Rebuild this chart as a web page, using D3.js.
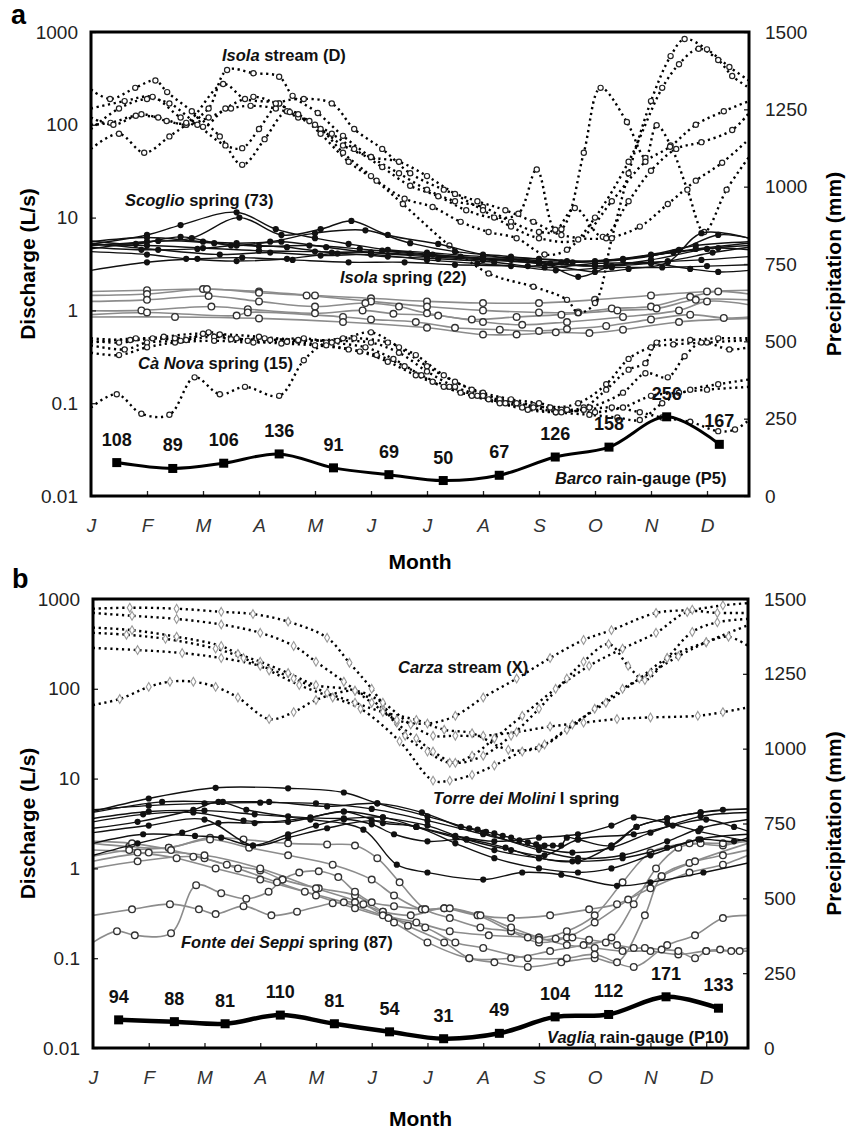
<!DOCTYPE html>
<html><head><meta charset="utf-8">
<script src="https://cdn.jsdelivr.net/npm/d3@7"></script>
<style>
body{margin:0;background:#fff;}
svg text{font-family:"Liberation Sans",Arial,Helvetica,sans-serif;}
</style></head><body>
<svg id="fig" width="846" height="1132"></svg>
<script>
// ---- axis vocabulary ----
const months = ["J","F","M","A","M","J","J","A","S","O","N","D"];
const monthTicks = [0,1,2,3,4,5,6,7,8,9,10,11];
const decadeTicks = [0.01,0.1,1,10,100,1000];
const decadeLabels = ["0.01","0.1","1","10","100","1000"];
const precipTicks = [0,250,500,750,1000,1250,1500];

// ---- monthly precipitation (mm), plotted at mid-month ----
const precipMonth = [0.46,1.46,2.37,3.36,4.33,5.32,6.29,7.29,8.29,9.25,10.28,11.22];
const precipBarco = [108,89,106,136,91,69,50,67,126,158,256,167];
const precipVaglia = [94,88,81,110,81,54,31,49,104,112,171,133];

// ---- panel a: discharge records [month, L/s] ----
const isolaStream = [
 [[0,100],[0.35,105],[0.8,125],[1.2,120],[1.7,100],[2.1,120],[2.5,150],[2.85,160],[3.3,150],[3.7,120],[4.1,90],[4.5,50],[5.0,28],[5.57,14],[6.4,5],[7.1,2.5],[7.9,1.8],[8.5,1.3],[8.7,0.94],[9.0,1.2],[9.3,6],[9.6,30],[10.0,180],[10.35,550],[10.6,840],[11.0,650],[11.4,420],[11.75,300]],
 [[0,240],[0.34,190],[0.79,250],[1.15,300],[1.36,225],[1.8,140],[2.3,75],[2.7,37],[3.1,70],[3.5,140],[3.9,110],[4.3,80],[4.7,55],[5.2,35],[5.7,22],[6.2,17],[6.7,12],[7.2,10],[7.63,11],[7.96,33],[8.29,7.4],[8.64,12.7],[9.14,6.2],[9.6,15],[10.0,32],[10.45,55],[10.9,65],[11.45,88],[11.75,134]],
 [[0,55],[0.5,80],[0.95,50],[1.4,75],[1.7,100],[2.1,150],[2.43,390],[2.9,360],[3.36,330],[3.6,205],[4.05,134],[4.5,76],[5.0,45],[5.5,30],[6.0,20],[6.5,15],[7.0,13],[7.5,9],[8.0,7],[8.4,7.5],[8.8,50],[9.1,250],[9.57,107],[9.9,44],[10.1,99],[10.35,60],[10.65,20],[10.95,7],[11.35,20],[11.75,45]],
 [[0,120],[0.4,100],[0.9,130],[1.35,110],[1.7,105],[2.36,275],[2.75,190],[3.36,170],[3.55,137],[4.0,100],[4.5,60],[5.0,45],[5.5,40],[6.0,28],[6.5,18],[7.0,12],[7.5,8],[8.0,6],[8.7,5.8],[9.3,15],[9.9,40],[10.34,58],[10.8,100],[11.3,140],[11.75,180]],
 [[0,90],[0.5,150],[1.0,190],[1.4,170],[1.9,100],[2.4,60],[2.7,56],[3.0,90],[3.36,170],[3.8,190],[4.3,170],[4.7,90],[5.2,55],[5.7,30],[6.3,20],[6.9,15],[7.4,12],[7.9,9],[8.4,6.5],[9.2,6],[9.8,8],[10.3,14],[10.8,25],[11.27,39],[11.75,70]],
 [[0,150],[0.6,180],[1.1,200],[1.6,120],[2.0,95],[2.4,150],[2.9,200],[3.3,170],[3.7,130],[4.1,80],[4.6,40],[5.1,25],[5.6,16],[6.1,13],[6.6,9],[7.1,7],[7.6,6],[8.1,4],[8.5,4.5],[9.0,10],[9.6,40],[10.2,250],[10.5,450],[10.85,660],[11.2,500],[11.45,336],[11.75,250]]
];
const scoglioSpring = [
 [[0,5.2],[1.0,6.5],[1.6,8.3],[2.6,11.4],[3.3,7.5],[4.0,6],[4.6,5.2],[5.3,4.5],[6.0,4.2],[7.0,3.8],[8.0,3.6],[9.0,3.4],[10.0,4],[10.8,5],[11.75,5.5]],
 [[0,5.0],[1.0,5.5],[1.8,6],[2.65,10],[3.4,6.5],[4.1,7.5],[4.65,9.2],[5.3,6.5],[6.2,5.2],[7.0,4],[8.0,3.3],[9.0,3.0],[10.0,3.5],[11.0,4.6],[11.75,5]],
 [[0,5.5],[1.0,6.1],[2.0,5.5],[2.6,5.3],[3.2,5.5],[4.0,6.8],[4.9,7.3],[5.7,5.3],[6.5,4.3],[7.5,3.8],[8.5,3.4],[9.5,3.5],[10.5,4.5],[11.2,6.5],[11.75,6]],
 [[0,4.8],[0.9,4.5],[1.9,4.6],[2.6,5.0],[3.5,4.8],[4.3,4.2],[5.2,4.4],[6.1,4.0],[7.0,3.6],[8.2,3.2],[9.2,3.0],[10.3,3.4],[11.1,4.2],[11.75,4.8]],
 [[0,4.3],[1.0,4.0],[1.7,3.6],[2.6,3.4],[3.5,3.6],[4.4,4.1],[5.3,3.8],[6.2,3.6],[7.2,3.3],[8.1,2.9],[9.0,3.2],[10.0,3.3],[10.9,3.5],[11.75,3.8]],
 [[0,2.7],[1.0,3.3],[1.9,3.6],[2.7,3.7],[3.6,3.5],[4.6,3.3],[5.6,3.3],[6.5,3.1],[7.5,3.0],[8.3,2.7],[9.3,2.9],[10.2,2.9],[11.0,3.0],[11.75,3.1]],
 [[0,5.6],[0.8,5.2],[1.6,6.2],[2.5,5.0],[3.4,5.5],[4.2,4.8],[5.0,4.2],[6.0,3.8],[7.0,3.5],[8.0,3.2],[9.0,2.6],[9.6,2.8],[10.3,3.3],[10.9,6.8],[11.75,6.0]],
 [[0,5.1],[1.0,5.0],[2.0,4.7],[3.0,4.4],[4.0,4.3],[5.0,4.2],[6.0,3.9],[7.0,3.6],[8.0,3.4],[8.7,2.3],[9.3,3.0],[10.0,3.2],[10.7,2.8],[11.2,2.6],[11.75,2.7]],
 [[0,4.6],[1.2,5.6],[2.2,5.3],[3.0,4.9],[3.9,5.0],[4.8,4.6],[5.7,4.1],[6.6,3.8],[7.5,3.5],[8.4,3.3],[9.2,3.4],[10.0,3.9],[10.8,4.6],[11.75,5.3]],
 [[0,5.3],[1.2,4.5],[2.3,4.0],[3.2,4.2],[4.1,3.9],[5.0,4.0],[6.0,3.5],[6.9,3.2],[7.8,3.0],[8.6,3.3],[9.5,3.6],[10.4,4.2],[11.2,4.7],[11.75,4.5]]
];
const isolaSpring = [
 [[0,1.6],[1.0,1.65],[2.0,1.7],[3.0,1.6],[4.0,1.45],[5.0,1.35],[6.0,1.25],[7.0,1.2],[8.0,1.2],[9.0,1.3],[10.0,1.45],[11.0,1.6],[11.75,1.65]],
 [[0,1.45],[1.0,1.5],[2.07,1.7],[3.0,1.55],[3.85,1.45],[5.0,1.25],[6.0,1.1],[7.0,1.0],[8.0,0.95],[8.7,0.95],[9.3,1.05],[10.0,1.1],[10.7,1.4],[11.2,1.6],[11.75,1.5]],
 [[0,1.25],[1.0,1.3],[2.1,1.43],[3.0,1.25],[4.0,1.1],[4.9,1.2],[5.5,1.1],[6.0,0.93],[6.8,0.8],[7.6,0.85],[8.4,0.9],[9.4,1.0],[10.1,1.05],[10.8,1.3],[11.75,1.3]],
 [[0,0.99],[0.9,1.0],[2.15,1.1],[2.8,1.03],[4.0,0.93],[4.85,1.0],[5.4,0.92],[6.2,0.88],[7.0,0.75],[7.7,0.7],[8.5,0.75],[9.5,0.85],[10.5,1.0],[11.0,1.25],[11.75,1.15]],
 [[0,0.9],[1.0,0.95],[2.6,0.88],[2.8,0.95],[4.5,0.85],[5.0,0.8],[5.8,0.75],[6.5,0.65],[7.3,0.62],[8.0,0.6],[8.5,0.63],[9.2,0.68],[10.0,0.8],[10.7,0.9],[11.3,0.83],[11.75,0.85]],
 [[0,0.85],[1.5,0.85],[3.0,0.82],[4.5,0.75],[6.0,0.65],[7.0,0.55],[7.6,0.55],[8.3,0.58],[8.9,0.57],[9.5,0.62],[10.5,0.75],[11.75,0.82]]
];
const caNovaSpring = [
 [[0,0.09],[0.46,0.125],[0.9,0.077],[1.4,0.075],[1.85,0.19],[2.3,0.125],[2.75,0.15],[3.36,0.12],[3.8,0.29],[4.2,0.45],[4.7,0.5],[5.3,0.45],[5.8,0.33],[6.3,0.2],[6.8,0.14],[7.3,0.11],[7.9,0.095],[8.4,0.085],[8.8,0.09],[9.2,0.14],[9.6,0.23],[9.9,0.27],[10.1,0.45],[10.7,0.48],[11.2,0.5],[11.75,0.5]],
 [[0,0.47],[0.5,0.45],[1.1,0.5],[1.7,0.48],[2.1,0.58],[2.6,0.5],[3.2,0.48],[3.8,0.5],[4.3,0.45],[4.9,0.4],[5.4,0.3],[5.9,0.2],[6.4,0.15],[6.9,0.12],[7.4,0.1],[7.9,0.09],[8.4,0.08],[8.9,0.09],[9.5,0.13],[9.9,0.21],[10.3,0.19],[10.6,0.32],[10.9,0.45],[11.4,0.38],[11.75,0.4]],
 [[0,0.42],[0.6,0.38],[1.0,0.45],[1.6,0.47],[2.2,0.52],[2.8,0.47],[3.4,0.44],[4.0,0.42],[4.6,0.38],[5.1,0.33],[5.6,0.25],[6.1,0.17],[6.6,0.13],[7.1,0.11],[7.7,0.09],[8.3,0.08],[8.9,0.075],[9.4,0.07],[9.8,0.066],[10.2,0.1],[10.7,0.14],[11.2,0.16],[11.75,0.18]],
 [[0,0.5],[0.7,0.48],[1.3,0.52],[2.0,0.56],[2.5,0.49],[3.1,0.5],[3.7,0.47],[4.5,0.5],[5.0,0.58],[5.5,0.4],[6.0,0.25],[6.5,0.17],[7.0,0.13],[7.5,0.11],[8.0,0.1],[8.5,0.085],[9.0,0.08],[9.5,0.09],[10.0,0.12],[10.5,0.13],[11.0,0.14],[11.75,0.15]],
 [[0,0.35],[0.5,0.33],[1.0,0.4],[1.5,0.45],[2.2,0.47],[2.9,0.45],[3.5,0.46],[4.2,0.42],[4.8,0.36],[5.3,0.28],[5.8,0.2],[6.3,0.15],[6.8,0.12],[7.3,0.1],[7.8,0.085],[8.3,0.08],[8.8,0.085],[9.3,0.09],[9.8,0.08],[10.2,0.07],[10.7,0.063],[11.2,0.05],[11.5,0.052],[11.75,0.066]],
 [[0,0.45],[0.8,0.5],[1.5,0.5],[2.3,0.55],[3.0,0.52],[3.7,0.48],[4.4,0.47],[5.0,0.45],[5.5,0.35],[6.0,0.22],[6.5,0.15],[7.0,0.12],[7.6,0.1],[8.2,0.09],[8.7,0.1],[9.2,0.16],[9.6,0.3],[10.0,0.4],[10.4,0.43],[11.0,0.45],[11.75,0.48]]
];

// ---- panel b: discharge records [month, L/s] ----
const carzaStream = [
 [[0,780],[0.66,800],[1.5,780],[2.3,720],[2.87,680],[3.5,560],[4.2,370],[4.6,195],[5.0,100],[5.45,42],[5.8,28],[6.1,20],[6.5,15],[7.0,18],[7.5,30],[8.0,60],[8.5,130],[8.8,200],[9.25,315],[9.6,180],[9.9,125],[10.3,220],[10.75,430],[11.2,550],[11.75,600]],
 [[0,700],[0.7,650],[1.5,600],[2.3,520],[3.0,420],[3.6,300],[4.0,200],[4.5,120],[5.0,70],[5.45,45],[6.0,41],[6.5,50],[7.0,80],[7.6,130],[8.2,220],[8.8,350],[9.3,450],[10.1,700],[10.75,760],[11.3,850],[11.75,900]],
 [[0,480],[0.7,450],[1.5,380],[2.3,300],[2.6,245],[3.0,200],[3.5,150],[4.0,110],[4.7,95],[5.2,60],[5.6,30],[6.0,20],[6.4,15],[6.8,18],[7.2,28],[7.7,50],[8.3,100],[8.9,180],[9.5,280],[10.1,420],[10.66,715],[11.2,700],[11.75,700]],
 [[0,420],[0.6,400],[1.3,360],[2.2,280],[2.7,220],[3.16,160],[3.7,110],[4.3,80],[4.8,60],[5.5,26],[6.1,9.5],[6.4,9.5],[6.8,11],[7.2,14],[7.7,20],[8.1,24],[8.6,40],[9.2,70],[9.8,130],[10.3,220],[11.0,330],[11.4,380],[11.75,300]],
 [[0,285],[0.8,270],[1.6,250],[2.3,220],[3.0,180],[3.6,130],[4.2,90],[4.7,70],[5.2,55],[5.8,45],[6.3,35],[6.8,32],[7.45,21],[8.0,22],[8.5,35],[9.0,60],[9.5,100],[10.0,150],[10.5,230],[11.0,330],[11.75,510]],
 [[0,66],[0.48,77],[1.0,105],[1.38,120],[1.8,120],[2.2,105],[2.6,80],[3.16,46],[3.6,55],[4.0,75],[4.7,95],[5.2,70],[5.7,40],[6.1,30],[6.5,30],[7.0,30],[7.6,33],[8.2,38],[8.8,42],[9.4,46],[10.0,48],[10.85,50],[11.3,55],[11.75,62]]
];
const torreSpring = [
 [[0,4.3],[1.0,6.0],[2.2,7.9],[3.5,7.8],[4.5,7.0],[5.1,5.3],[6.0,3.8],[7.0,2.5],[8.0,1.6],[8.7,1.3],[9.5,1.4],[10.3,2.0],[10.9,2.8],[11.75,3.5]],
 [[0,4.2],[1.24,5.5],[2.33,5.5],[3.16,5.5],[4.2,4.9],[5.1,5.3],[5.9,4.2],[6.6,2.9],[6.75,2.8],[6.9,2.7],[7.05,2.55],[7.2,2.45],[7.35,2.3],[7.5,2.2],[7.65,2.05],[7.8,1.95],[7.95,1.85],[8.1,1.8],[8.25,1.8],[8.4,1.8],[8.5,2.2],[8.7,2.1],[9.3,1.8],[9.75,2.9],[10.3,3.6],[10.9,4.2],[11.3,4.5],[11.75,4.6]],
 [[0,3.3],[0.9,4.0],[1.8,4.2],[2.7,3.4],[3.5,3.3],[4.5,4.3],[5.2,3.7],[6.0,3.0],[6.7,2.1],[7.5,1.6],[8.1,1.4],[8.7,2.1],[9.7,2.4],[10.4,3.0],[11.0,3.5],[11.5,2.9],[11.75,2.6]],
 [[0,2.8],[0.8,3.3],[1.8,4.5],[2.25,5.5],[2.75,4.5],[3.5,3.8],[4.5,3.6],[5.2,3.7],[5.8,2.9],[6.5,2.2],[7.2,1.6],[8.0,1.3],[8.7,1.2],[9.3,1.8],[9.75,2.9],[10.3,3.6],[10.9,4.2],[11.75,4.6]],
 [[0,1.9],[0.9,2.4],[1.83,2.3],[2.3,2.2],[2.87,1.8],[3.5,2.4],[4.0,3.0],[4.5,3.5],[5.0,3.1],[5.4,2.4],[6.0,2.0],[6.7,2.1],[7.4,1.7],[8.0,1.3],[8.6,1.2],[9.5,1.3],[10.3,1.7],[10.9,2.1],[11.5,2.0],[11.75,2.2]],
 [[0,1.4],[0.8,1.9],[1.6,2.5],[2.25,3.2],[2.9,3.2],[3.9,3.7],[4.5,4.3],[5.2,3.2],[5.8,2.9],[6.5,1.9],[7.2,1.3],[8.0,1.0],[8.7,0.9],[9.3,1.0],[10.0,1.4],[10.86,2.1],[11.75,2.4]],
 [[0,3.6],[1.0,4.3],[2.0,4.4],[2.9,4.0],[3.9,3.5],[4.85,2.7],[5.45,1.1],[6.0,0.9],[7.0,0.75],[7.7,0.9],[8.4,0.85],[9.4,0.64],[10.0,0.7],[10.95,0.9],[11.75,1.15]],
 [[0,4.5],[1.0,5.0],[2.0,5.3],[3.0,5.4],[4.0,5.3],[5.0,4.6],[6.0,3.4],[7.0,2.4],[8.0,1.7],[8.6,1.5],[9.3,1.7],[10.0,2.5],[10.9,3.8],[11.75,4.2]],
 [[0,2.5],[1.0,3.0],[2.0,3.5],[2.87,1.8],[3.5,2.2],[4.2,2.8],[5.0,3.4],[5.8,2.9],[6.5,2.3],[7.2,2.0],[8.0,2.2],[8.7,2.4],[9.3,3.0],[9.7,3.7],[10.3,3.2],[10.86,2.6],[11.75,2.0]]
];
const fonteSpring = [
 [[0,1.9],[0.65,1.75],[1.36,1.7],[2.1,2.2],[2.7,2.1],[3.5,1.9],[4.2,1.85],[4.7,1.8],[5.1,1.3],[5.5,0.7],[5.96,0.35],[6.4,0.28],[6.95,0.22],[7.5,0.2],[8.0,0.17],[8.5,0.2],[9.0,0.3],[9.5,0.7],[10.0,1.5],[10.7,1.9],[11.3,1.8],[11.75,2.1]],
 [[0,1.37],[0.65,1.6],[1.36,1.7],[2.1,2.1],[2.8,1.7],[3.5,1.4],[4.3,1.1],[5.0,0.75],[5.4,0.5],[5.9,0.35],[6.3,0.36],[6.9,0.3],[7.5,0.28],[8.2,0.3],[8.9,0.35],[9.4,0.4],[10.0,0.6],[10.7,0.9],[11.3,1.1],[11.75,1.4]],
 [[0,1.0],[0.8,1.2],[1.8,1.35],[2.4,1.1],[3.0,0.95],[3.4,0.75],[4.05,0.6],[4.7,0.5],[5.2,0.33],[5.65,0.23],[6.3,0.15],[6.75,0.1],[7.2,0.09],[7.8,0.08],[8.4,0.09],[9.0,0.1],[9.4,0.09],[9.9,0.3],[10.2,0.82],[10.7,1.15],[11.3,1.4],[11.75,1.6]],
 [[0,0.3],[0.7,0.35],[1.38,0.4],[1.9,0.35],[2.2,0.31],[2.7,0.38],[3.2,0.3],[3.66,0.33],[4.3,0.41],[4.7,0.42],[5.2,0.33],[5.7,0.3],[6.3,0.36],[6.9,0.3],[7.5,0.2],[8.0,0.15],[8.5,0.17],[9.0,0.25],[9.6,0.45],[10.2,0.82],[10.8,1.2],[11.75,1.9]],
 [[0,0.15],[0.43,0.2],[0.75,0.18],[1.4,0.19],[1.85,0.65],[2.3,0.53],[2.75,0.46],[3.15,0.55],[3.4,0.75],[3.7,0.9],[4.05,0.93],[4.4,0.8],[4.7,0.55],[5.0,0.42],[5.4,0.38],[5.96,0.35],[6.4,0.36],[6.95,0.3],[7.5,0.22],[8.0,0.17],[8.5,0.14],[9.0,0.13],[9.5,0.12],[10.0,0.12],[10.5,0.11],[11.0,0.12],[11.6,0.12],[11.75,0.12]],
 [[0,1.6],[0.8,1.5],[1.5,1.3],[2.2,1.0],[3.0,0.75],[3.8,0.55],[4.5,0.42],[5.2,0.3],[5.8,0.25],[6.4,0.2],[7.1,0.18],[7.8,0.17],[8.0,0.16],[8.3,0.165],[8.6,0.17],[8.9,0.16],[9.2,0.15],[9.4,0.14],[9.7,0.13],[9.9,0.13],[10.2,0.125],[10.5,0.12],[10.8,0.1],[11.0,0.12],[11.25,0.125],[11.45,0.12],[11.75,0.13]],
 [[0,2.0],[0.7,1.9],[1.4,1.6],[2.0,1.3],[2.6,1.0],[3.3,0.7],[4.0,0.5],[4.7,0.36],[5.3,0.28],[5.96,0.22],[6.5,0.15],[7.0,0.13],[7.8,0.1],[8.5,0.1],[9.0,0.11],[9.7,0.08],[10.3,0.14],[10.8,0.18],[11.3,0.28],[11.75,0.3]],
 [[0,1.2],[1.0,1.5],[2.0,1.4],[3.0,1.0],[4.0,0.6],[4.85,0.4],[5.4,0.25],[6.0,0.15],[6.75,0.1],[7.5,0.1],[8.2,0.12],[8.8,0.14],[9.3,0.17],[9.7,0.4],[10.1,1.0],[10.5,1.7],[10.9,1.9],[11.3,1.9],[11.75,2.0]]
];

// ---- drawing ----
const svg = d3.select("#fig");
const FONT = '"Liberation Sans",Arial,Helvetica,sans-serif';

const styles = {
  dotted:  {stroke:"#000", width:2.4, dash:"2.2,3.6", marker:"circle"},
  dottedGray: {stroke:"#000", width:2.4, dash:"2.2,3.6", marker:"diamond"},
  black:   {stroke:"#111", width:1.4, dash:null, marker:"dot"},
  gray:    {stroke:"#8c8c8c", width:1.6, dash:null, marker:"ring"}
};

function drawPanel(p, idx) {
  const x = d3.scaleLinear().domain([0, 11.75]).range([p.left, p.right]);
  const y = d3.scaleLog().domain([0.01, 1000]).range([p.bottom, p.top]);
  const yp = d3.scaleLinear().domain([0, 1500]).range([p.bottom, p.top]);

  const clipId = "clip" + idx;
  svg.append("clipPath").attr("id", clipId)
    .append("rect").attr("x", p.left).attr("y", p.top)
    .attr("width", p.right - p.left).attr("height", p.bottom - p.top);

  const plot = svg.append("g").attr("clip-path", `url(#${clipId})`);
  const line = d3.line().x(d => x(d[0])).y(d => y(d[1]))
    .curve(d3.curveCatmullRom.alpha(0.5));

  p.groups.forEach(grp => {
    const st = styles[grp.style];
    const gg = plot.append("g");
    grp.series.forEach(s => {
      gg.append("path").attr("d", line(s)).attr("fill", "none")
        .attr("stroke", st.stroke).attr("stroke-width", st.width)
        .attr("stroke-dasharray", st.dash);
    });
    const pts = grp.series.flat().filter(d => d[0] > 0.05 && d[0] < 11.7);
    if (st.marker === "dot") {
      gg.selectAll("circle").data(pts).join("circle")
        .attr("cx", d => x(d[0])).attr("cy", d => y(d[1])).attr("r", 3.1)
        .attr("fill", "#111");
    } else if (st.marker === "ring") {
      gg.selectAll("circle").data(pts).join("circle")
        .attr("cx", d => x(d[0])).attr("cy", d => y(d[1])).attr("r", 3.3)
        .attr("fill", "#fff").attr("stroke", "#333").attr("stroke-width", 1.4);
    } else if (st.marker === "circle") {
      gg.selectAll("circle").data(pts).join("circle")
        .attr("cx", d => x(d[0])).attr("cy", d => y(d[1])).attr("r", 2.6)
        .attr("fill", "#fff").attr("stroke", "#222").attr("stroke-width", 1.2);
    } else if (st.marker === "diamond") {
      gg.selectAll("path.mk").data(pts).join("path").attr("class", "mk")
        .attr("d", d3.symbol(d3.symbolDiamond, 22))
        .attr("transform", d => `translate(${x(d[0])},${y(d[1])})`)
        .attr("fill", "#fff").attr("stroke", "#999").attr("stroke-width", 1.1);
    }
  });

  // precipitation
  const pData = precipMonth.map((m, i) => [m, p.precip[i]]);
  const pline = d3.line().x(d => x(d[0])).y(d => yp(d[1]))
    .curve(d3.curveCatmullRom.alpha(0.5));
  svg.append("path").attr("d", pline(pData)).attr("fill", "none")
    .attr("stroke", "#000").attr("stroke-width", p.precipWidth);
  svg.selectAll(null).data(pData).join("rect")
    .attr("x", d => x(d[0]) - 4.5).attr("y", d => yp(d[1]) - 4.5)
    .attr("width", 9).attr("height", 9).attr("fill", "#000");
  svg.selectAll(null).data(pData).join("text")
    .attr("x", d => x(d[0])).attr("y", d => yp(d[1]) - 17)
    .attr("text-anchor", "middle").attr("font-size", 18).attr("font-weight", "bold")
    .attr("fill", "#111").text(d => d[1]);

  // axes
  const axL = svg.append("g").attr("transform", `translate(${p.left},0)`)
    .call(d3.axisLeft(y).tickValues(decadeTicks).tickFormat((d, i) => decadeLabels[i])
      .tickSizeInner(-5).tickSizeOuter(0).tickPadding(13));
  const axR = svg.append("g").attr("transform", `translate(${p.right},0)`)
    .call(d3.axisRight(yp).tickValues(precipTicks).tickFormat(d3.format("d"))
      .tickSizeInner(-5).tickSizeOuter(0).tickPadding(16));
  const axB = svg.append("g").attr("transform", `translate(0,${p.bottom})`)
    .call(d3.axisBottom(x).tickValues(monthTicks).tickFormat((d, i) => months[i])
      .tickSizeInner(-5).tickSizeOuter(0).tickPadding(p.monthPad));
  [axL, axR, axB].forEach(a => {
    a.select(".domain").remove();
    a.attr("font-family", FONT).attr("font-size", 19).attr("color", "#222");
    a.selectAll(".tick line").attr("stroke", "#222").attr("stroke-width", 1.3);
  });
  axB.selectAll(".tick text").attr("font-style", "italic").attr("fill", "#333");
  axB.selectAll(".tick").filter(d => d === 0).select("line").remove();

  // frame
  svg.append("rect").attr("x", p.left).attr("y", p.top)
    .attr("width", p.right - p.left).attr("height", p.bottom - p.top)
    .attr("fill", "none").attr("stroke", "#000").attr("stroke-width", 3);

  // titles
  svg.append("text").attr("transform", `translate(35,${(p.top + p.bottom) / 2}) rotate(-90)`)
    .attr("text-anchor", "middle").attr("font-size", 21).attr("font-weight", "bold")
    .text("Discharge (L/s)");
  svg.append("text").attr("transform", `translate(841,${(p.top + p.bottom) / 2}) rotate(-90)`)
    .attr("text-anchor", "middle").attr("font-size", 21).attr("font-weight", "bold")
    .text("Precipitation (mm)");
  svg.append("text").attr("x", (p.left + p.right) / 2).attr("y", p.monthTitleY)
    .attr("text-anchor", "middle").attr("font-size", 21).attr("font-weight", "bold")
    .text("Month");
  svg.append("text").attr("x", p.letterX).attr("y", p.letterY)
    .attr("font-size", 27).attr("font-weight", "bold").text(p.letter);

  // series annotations: [text, italic?]
  p.notes.forEach(n => {
    const t = svg.append("text").attr("x", n.x).attr("y", n.y)
      .attr("font-size", 16.5).attr("font-weight", "bold").attr("fill", "#111");
    n.parts.forEach(part => {
      t.append("tspan").attr("font-style", part[1] ? "italic" : "normal").text(part[0]);
    });
  });
}

drawPanel({
  left: 91, right: 749, top: 32, bottom: 496,
  monthPad: 23, monthTitleY: 569, letter: "a", letterX: 11, letterY: 24,
  precip: precipBarco, precipWidth: 3,
  groups: [
    {style: "gray", series: isolaSpring},
    {style: "dotted", series: caNovaSpring},
    {style: "dotted", series: isolaStream},
    {style: "black", series: scoglioSpring}
  ],
  notes: [
    {x: 222, y: 61, parts: [["Isola", true], [" stream (D)", false]]},
    {x: 125, y: 206, parts: [["Scoglio", true], [" spring (73)", false]]},
    {x: 340, y: 283, parts: [["Isola", true], [" spring (22)", false]]},
    {x: 138, y: 369, parts: [["Cà Nova", true], [" spring (15)", false]]},
    {x: 555, y: 484, parts: [["Barco", true], [" rain-gauge (P5)", false]]}
  ]
}, 0);

drawPanel({
  left: 93, right: 748, top: 599, bottom: 1048,
  monthPad: 23, monthTitleY: 1126, letter: "b", letterX: 12, letterY: 588,
  precip: precipVaglia, precipWidth: 4.5,
  groups: [
    {style: "gray", series: fonteSpring},
    {style: "dottedGray", series: carzaStream},
    {style: "black", series: torreSpring}
  ],
  notes: [
    {x: 398, y: 673, parts: [["Carza", true], [" stream (X)", false]]},
    {x: 433, y: 804, parts: [["Torre dei Molini", true], [" I spring", false]]},
    {x: 181, y: 948, parts: [["Fonte dei Seppi", true], [" spring (87)", false]]},
    {x: 547, y: 1043, parts: [["Vaglia", true], [" rain-gauge (P10)", false]]}
  ]
}, 1);
</script>
</body></html>
